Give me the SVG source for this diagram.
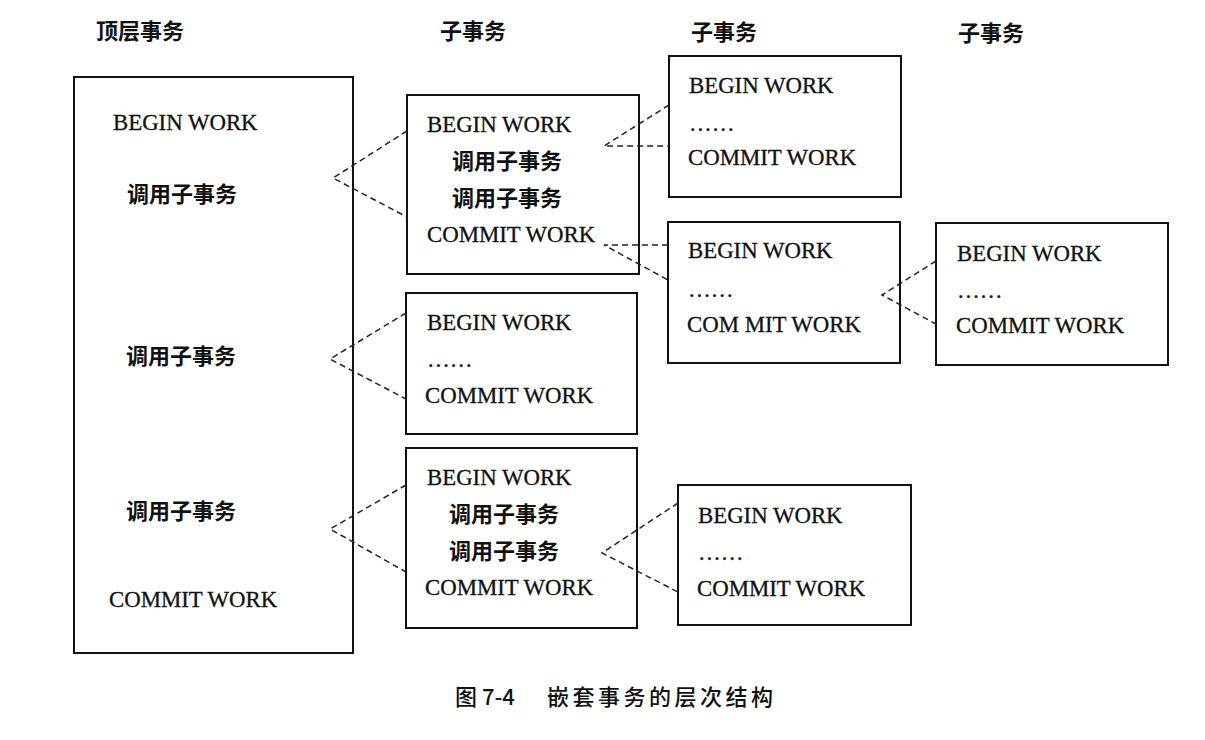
<svg xmlns="http://www.w3.org/2000/svg" width="1205" height="740" viewBox="0 0 1205 740">
<style>
.box{fill:none;stroke:#111;stroke-width:2}
.t{font-family:"Liberation Serif","Times New Roman",serif;font-size:22.8px;fill:#111;stroke:#111;stroke-width:0.3}
.c{font-family:"Noto Sans CJK SC",sans-serif;font-size:22px;font-weight:bold;fill:#111}
.h{font-family:"Noto Sans CJK SC",sans-serif;font-size:22px;font-weight:bold;fill:#111}
.cap{font-family:"Noto Sans CJK SC",sans-serif;font-size:22px;font-weight:500;fill:#111}
.d{fill:none;stroke:#222;stroke-width:1.5;stroke-dasharray:6 4}
</style>
<rect width="1205" height="740" fill="#fff"/>
<g id="headers">
<text class="h" x="96" y="39">顶层事务</text>
<text class="h" x="440" y="39">子事务</text>
<text class="h" x="691" y="40">子事务</text>
<text class="h" x="958" y="41">子事务</text>
</g>
<g id="top">
<rect class="box" x="74" y="77" width="279" height="576"/>
<text class="t" x="113" y="130">BEGIN WORK</text>
<text class="c" x="127" y="202">调用子事务</text>
<text class="c" x="126" y="364">调用子事务</text>
<text class="c" x="126" y="519">调用子事务</text>
<text class="t" x="109" y="607">COMMIT WORK</text>
</g>
<g id="sub1">
<rect class="box" x="407" y="95" width="232" height="179"/>
<text class="t" x="427" y="132">BEGIN WORK</text>
<text class="c" x="452" y="169">调用子事务</text>
<text class="c" x="452" y="206">调用子事务</text>
<text class="t" x="427" y="242">COMMIT WORK</text>
</g>
<g id="sub1a">
<rect class="box" x="669" y="56" width="232" height="141"/>
<text class="t" x="689" y="93">BEGIN WORK</text>
<text class="t" x="689" y="131">……</text>
<text class="t" x="688" y="165">COMMIT WORK</text>
</g>
<g id="sub1b">
<rect class="box" x="668" y="222" width="232" height="141"/>
<text class="t" x="688" y="258">BEGIN WORK</text>
<text class="t" x="688" y="297">……</text>
<text class="t" x="687" y="332">COM MIT WORK</text>
</g>
<g id="sub1b1">
<rect class="box" x="936" y="223" width="232" height="142"/>
<text class="t" x="957" y="261">BEGIN WORK</text>
<text class="t" x="957" y="298">……</text>
<text class="t" x="956" y="333">COMMIT WORK</text>
</g>
<g id="sub2">
<rect class="box" x="406" y="293" width="231" height="141"/>
<text class="t" x="427" y="330">BEGIN WORK</text>
<text class="t" x="427" y="367">……</text>
<text class="t" x="425" y="403">COMMIT WORK</text>
</g>
<g id="sub3">
<rect class="box" x="406" y="448" width="231" height="180"/>
<text class="t" x="427" y="485">BEGIN WORK</text>
<text class="c" x="449" y="522">调用子事务</text>
<text class="c" x="449" y="559">调用子事务</text>
<text class="t" x="425" y="595">COMMIT WORK</text>
</g>
<g id="sub3a">
<rect class="box" x="678" y="485" width="233" height="140"/>
<text class="t" x="698" y="523">BEGIN WORK</text>
<text class="t" x="698" y="560">……</text>
<text class="t" x="697" y="596">COMMIT WORK</text>
</g>
<g id="connectors">
<polyline class="d" points="407,131 333,178 407,217"/>
<polyline class="d" points="406,313 330,359 406,399"/>
<polyline class="d" points="406,485 330,529 406,572"/>
<polyline class="d" points="669,105 604,146 669,146"/>
<polyline class="d" points="668,245 604,245 668,280"/>
<polyline class="d" points="936,261 882,295 936,324"/>
<polyline class="d" points="678,503 602,553 678,592"/>
</g>
<g id="caption">
<text class="cap" x="455" y="705">图 7-4</text>
<text class="cap" x="547" y="705" letter-spacing="3.5">嵌套事务的层次结构</text>
</g>
</svg>
